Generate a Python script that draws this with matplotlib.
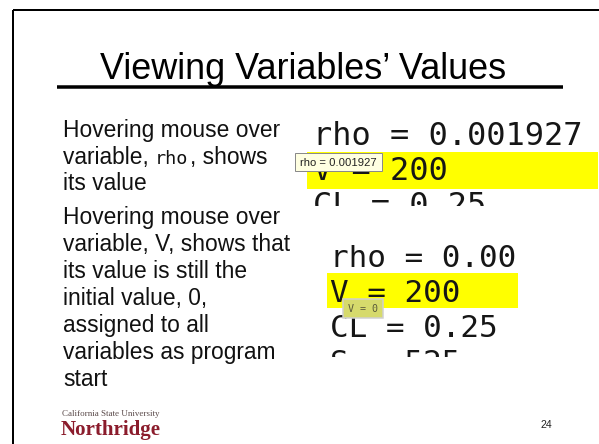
import matplotlib
matplotlib.use("Agg")
import matplotlib.pyplot as plt
from matplotlib.patches import Rectangle

# ---------------- content ----------------
title_text = "Viewing Variables\u2019 Values"
para1_lines = ["Hovering mouse over", "variable, |rho|, shows", "its value"]
para2_lines = ["Hovering mouse over", "variable, V, shows that", "its value is still the",
               "initial value, 0,", "assigned to all", "variables as program", "start"]
code1_lines = ["rho = 0.001927", "V = 200", "CL = 0.25"]
code2_lines = ["rho = 0.001927", "V = 200", "CL = 0.25", "S = 525"]
highlight_row = 1
tooltip1_text = "rho = 0.001927"
tooltip2_text = "V = 0"
logo_small = "California State University"
logo_big = "Northridge"
page_number = "24"

# ---------------- figure ----------------
W, H, DPI = 599, 444, 100
def pt(px):
    return px * 72.0 / DPI

fig = plt.figure(figsize=(W / DPI, H / DPI), dpi=DPI)
fig.patch.set_facecolor("white")
ax = fig.add_axes([0, 0, 1, 1])
ax.set_xlim(0, W)
ax.set_ylim(H, 0)
ax.axis("off")

def px_axes(x0, y0, x1, y1):
    a = fig.add_axes([x0 / W, 1 - y1 / H, (x1 - x0) / W, (y1 - y0) / H])
    a.set_xlim(x0, x1)
    a.set_ylim(y1, y0)
    a.axis("off")
    a.patch.set_alpha(0)
    return a

SANS = "Liberation Sans"
MONO = "DejaVu Sans Mono"
SERIF = "Liberation Serif"

# slide frame (left and top edges)
ax.plot([13, 13], [10, H], color="black", lw=pt(2), solid_capstyle="butt")
ax.plot([13, W], [10, 10], color="black", lw=pt(2), solid_capstyle="butt")

# title
ax.text(100, 79, title_text, fontsize=pt(36), family=SANS, va="baseline", ha="left")
ax.plot([57, 563], [87.5, 87.5], color="black", lw=pt(3.5), solid_capstyle="butt")

# left body text
renderer = fig.canvas.get_renderer()
body_px = 22.8
body_fs = pt(body_px)

def draw_line(x, y, s):
    parts = s.split("|")
    cx = x
    for i, part in enumerate(parts):
        if part == "":
            continue
        if i % 2 == 1:
            t = ax.text(cx, y, part, fontsize=pt(18.5), family=MONO, va="baseline",
                        color="#111111")
        else:
            t = ax.text(cx, y, part, fontsize=body_fs, family=SANS, va="baseline",
                        color="#111111")
        bb = t.get_window_extent(renderer)
        cx = cx + bb.width + (1 if i % 2 == 1 else 0)

y = 137
for s in para1_lines:
    draw_line(63, y, s)
    y += 26.5
y = 224
for s in para2_lines:
    draw_line(63, y, s)
    y += 27

# code snippet 1
c1 = px_axes(300, 112, 599, 206)
c1.add_patch(Rectangle((307, 152), 291, 37, facecolor="#FFFF00", edgecolor="none"))
for i, s in enumerate(code1_lines):
    c1.text(313, 145 + 35 * i, s, fontsize=pt(32), family=MONO, va="baseline",
            clip_on=True, color="#161616")
c1.add_patch(Rectangle((295, 153), 87, 18, facecolor="#FFFFE1", edgecolor="#8a8a8a",
                       lw=pt(1), clip_on=False, zorder=5))
c1.text(338.5, 162.5, tooltip1_text, fontsize=pt(11.3), family=SANS, ha="center",
        va="center", clip_on=False, zorder=6, color="#222222")

# code snippet 2
c2 = px_axes(320, 245, 518, 357)
c2.add_patch(Rectangle((327, 273), 191, 35, facecolor="#FFFF00", edgecolor="none"))
for i, s in enumerate(code2_lines):
    c2.text(330, 267 + 35 * i, s, fontsize=pt(31), family=MONO, va="baseline",
            clip_on=True, color="#161616")
c2.add_patch(Rectangle((343, 299), 40, 19, facecolor="#D6DA6C", edgecolor="#d0d0d0",
                       lw=pt(1.5), clip_on=False, zorder=5))
c2.text(363, 309, tooltip2_text, fontsize=pt(10), family=MONO, ha="center",
        va="center", clip_on=False, zorder=6, color="#5a5a3a")

# logo
ax.text(62, 416, logo_small, fontsize=pt(9), family=SERIF, va="baseline",
        color="#5a4a4a")
ax.text(61, 435, logo_big, fontsize=pt(21), family=SERIF, weight="bold",
        va="baseline", color="#8B1C2C")

# page number
ax.text(546, 428, page_number, fontsize=pt(10.5), family=SANS, ha="center",
        va="baseline", color="#222222")

fig.savefig("out.png", dpi=DPI, facecolor="white")
